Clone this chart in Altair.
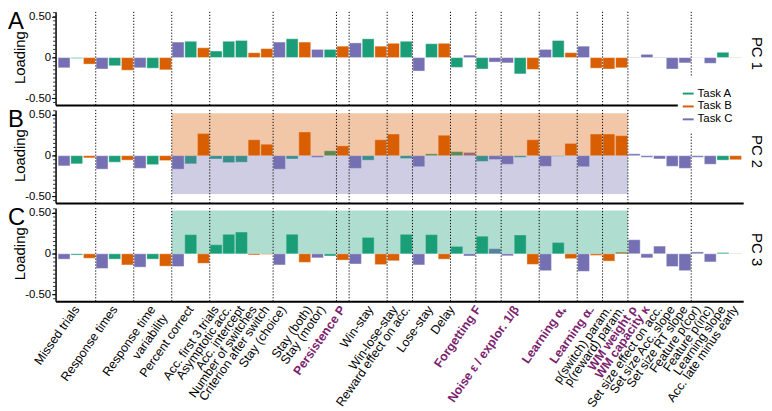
import altair as alt
import pandas as pd

FONT = "Liberation Sans"

TASK_NAMES = ["Task A", "Task B", "Task C"]
TASK_COLORS = ["#1b9e77", "#d95f02", "#7570b3"]
TASK_OF = {"A": "Task A", "B": "Task B", "C": "Task C"}

# task of each bar slot (left to right)
SLOT_TASKS = list("CABCABCABCAB" "AAABB" "CABCA" "B" "CAB" "BA" "CAB" "AC" "AC"
                  "CAB" "CAB" "CB" "BB" "CCCCC" "CCAB")

PC1 = [-0.125, -0.01, -0.08, -0.14, -0.10, -0.155, -0.125, -0.13, -0.15,
       0.19, 0.20, 0.12, 0.08, 0.20, 0.21, 0.06, 0.11,
       0.19, 0.23, 0.19, 0.10, 0.10, 0.14, 0.18, 0.23, 0.14, 0.175, 0.20,
       -0.165, 0.17, 0.175, -0.12, 0.03, -0.14, -0.055, -0.065, -0.20, -0.145,
       0.10, 0.21, 0.06, 0.14, -0.13, -0.14, -0.125,
       0.005, 0.04, -0.005, -0.14, -0.065, -0.003, -0.07, 0.065, 0.004]

PC2 = [-0.125, -0.10, -0.027, -0.165, -0.08, -0.055, -0.155, -0.11, -0.06,
       -0.165, -0.10, 0.27, -0.04, -0.085, -0.08, 0.195, 0.14,
       -0.165, -0.04, 0.29, -0.02, 0.06, 0.12, -0.155, -0.055, 0.195, 0.265, -0.035,
       -0.135, 0.023, 0.25, 0.05, 0.04, -0.07, -0.047, -0.105, -0.02, 0.195,
       -0.13, -0.008, 0.15, -0.135, 0.265, 0.265, 0.245,
       0.023, -0.02, -0.04, -0.13, -0.155, -0.02, -0.105, -0.055, -0.05]

PC3 = [-0.066, -0.016, -0.055, -0.18, -0.066, -0.137, -0.164, -0.066, -0.152,
       -0.156, 0.234, -0.117, 0.11, 0.238, 0.266, -0.016, -0.008,
       -0.137, 0.238, -0.105, -0.05, -0.027, -0.078, -0.125, 0.20, -0.133, -0.086, 0.238,
       -0.137, 0.234, -0.066, 0.09, -0.027, 0.215, 0.062, -0.025, 0.23, -0.13,
       -0.207, 0.137, -0.06, -0.215, -0.02, -0.09, 0.02,
       0.172, -0.05, 0.094, -0.156, -0.207, 0.023, -0.1, 0.015, 0.004]

GROUP_BOUNDARIES = [3, 6, 9, 12, 17, 22, 23, 26, 28, 31, 33, 35, 38, 41, 43, 45, 50]

FEATURE_LABELS = ["Missed trials", "Response times", "Response time\nvariability",
                  "Percent correct", "Acc. first 3 trials", "Asymptotic acc.",
                  "Acc. intercept", "Number of switches", "Criterion after switch",
                  "Stay (choice)", "Stay (both)", "Stay (motor)", "Persistence P",
                  "Win-stay", "Win-lose-stay", "Reward effect on acc.", "Lose-stay",
                  "Delay", "Forgetting F", "Noise ε / explor. 1/β", "Learning α₊",
                  "Learning α₋", "p(switch) param.", "p(reward) param.", "WM weight ρ",
                  "WM capacity κ", "Set size effect on acc.", "Set size Acc. slope",
                  "Set size RT slope", "Feature p(cor)", "Feature p(inc)",
                  "Learning slope", "Acc. late minus early"]
FEATURE_POS = [1.5, 4.5, 7.5, 10.5, 12.5, 13.5, 14.5, 15.5, 16.5,
               17.8, 19.85, 20.9, 22.5, 24.7, 26.6, 27.6, 29.4, 31.1, 33.2,
               36.2, 39.9, 42.1, 43.5, 44.5, 45.5, 46.5, 47.5, 48.5, 49.5,
               50.5, 51.5, 52.5, 53.5]
PARAMETER_LABELS = ["Persistence P", "Forgetting F", "Noise ε / explor. 1/β",
                    "Learning α₊", "Learning α₋", "WM weight ρ", "WM capacity κ"]

YTICKS = [-0.5, -0.25, 0, 0.25, 0.5]
YMINOR = [-0.55, -0.5, -0.45, -0.4, -0.35, -0.3, -0.25, -0.2, -0.15, -0.1, -0.05, 0,
          0.05, 0.1, 0.15, 0.2, 0.25, 0.3, 0.35, 0.4, 0.45, 0.5, 0.55]

SHADES_B = [("Task B", 9, 45, 0.0, 0.52), ("Task C", 9, 45, 0.0, -0.47)]
SHADES_C = [("Task A", 9, 45, 0.0, 0.53)]

W, H = 694, 94
GAP = 5
XDOM = [-0.17, 54.1]
YDOM = [-0.58, 0.56]

xscale = alt.Scale(domain=XDOM, nice=False, zero=False)
yscale = alt.Scale(domain=YDOM, nice=False, zero=False)
cscale = alt.Scale(domain=TASK_NAMES, range=TASK_COLORS)
xaxis = alt.Axis(labels=False, ticks=False, title=None, grid=False,
                 domainColor="black", domainWidth=2)
yaxis = alt.Axis(values=YTICKS, title=None, grid=False,
                 labelExpr="datum.value == 0 ? '0' : (datum.value < 0 ? '-' + format(-datum.value, '.2f') : format(datum.value, '.2f'))",
                 domainColor="black", domainWidth=1.5, tickColor="black", tickSize=4,
                 tickWidth=1, labelFontSize=11.5, labelColor="black", labelPadding=1,
                 labelFont=FONT)


def make_panel(letter, pc_name, values, shades, with_labels=False, with_legend=False):
    df = pd.DataFrame({"slot": list(range(len(values))),
                       "task": [TASK_OF[t] for t in SLOT_TASKS],
                       "loading": values})
    layers = []
    layers.append(
        alt.Chart(df).transform_calculate(xa="datum.slot + 0.03", xb="datum.slot + 0.97")
        .mark_rect(stroke="white", strokeWidth=0.8, strokeOpacity=0.5)
        .encode(x=alt.X("xa:Q", scale=xscale, axis=xaxis), x2="xb:Q",
                y=alt.Y("loading:Q", scale=yscale, axis=yaxis), y2=alt.datum(0),
                color=alt.Color("task:N", scale=cscale, legend=None))
    )
    layers.append(
        alt.Chart(pd.DataFrame({"v": YMINOR})).mark_rule(color="black", strokeWidth=0.8)
        .encode(y=alt.Y("v:Q", scale=yscale, axis=yaxis), x=alt.value(-2.5), x2=alt.value(0))
    )
    if shades:
        sdf = pd.DataFrame(shades, columns=["task", "x0", "x1", "y0", "y1"])
        layers.append(
            alt.Chart(sdf).mark_rect(opacity=0.35)
            .encode(x=alt.X("x0:Q", scale=xscale, axis=xaxis), x2="x1:Q",
                    y=alt.Y("y0:Q", scale=yscale, axis=yaxis), y2="y1:Q",
                    color=alt.Color("task:N", scale=cscale, legend=None))
        )
    layers.append(
        alt.Chart(pd.DataFrame({"b": GROUP_BOUNDARIES}))
        .mark_rule(color="black", strokeWidth=1, strokeDash=[1.2, 1.8])
        .encode(x=alt.X("b:Q", scale=xscale, axis=xaxis), y=alt.value(0), y2=alt.value(H))
    )
    layers.append(
        alt.Chart(pd.DataFrame({"t": [letter]}))
        .mark_text(font=FONT, fontSize=24, align="left", baseline="alphabetic", color="black")
        .encode(text="t:N", x=alt.value(-48), y=alt.value(17))
    )
    layers.append(
        alt.Chart(pd.DataFrame({"t": ["Loading"]}))
        .mark_text(font=FONT, fontSize=15, align="center", baseline="middle", angle=270,
                   color="black", dy=5)
        .encode(text="t:N", x=alt.value(-40.5), y=alt.datum(0, scale=yscale))
    )
    layers.append(
        alt.Chart(pd.DataFrame({"t": [pc_name]}))
        .mark_text(font=FONT, fontSize=15, align="center", baseline="middle", angle=90,
                   color="black")
        .encode(text="t:N", x=alt.value(W + 14), y=alt.value(H / 2 - 5))
    )
    if with_labels:
        ldf = pd.DataFrame({"label": FEATURE_LABELS, "pos": FEATURE_POS,
                            "param": [l in PARAMETER_LABELS for l in FEATURE_LABELS]})
        base = alt.Chart(ldf)
        layers.append(
            base.transform_filter("!datum.param")
            .mark_text(font=FONT, fontSize=12.5, align="right", baseline="middle",
                       angle=305, color="black", lineBreak="\n", lineHeight=15)
            .encode(text="label:N", x=alt.X("pos:Q", scale=xscale, axis=xaxis),
                    y=alt.value(H + 6))
        )
        layers.append(
            base.transform_filter("datum.param")
            .mark_text(font=FONT, fontSize=12.5, align="right", baseline="middle",
                       angle=305, color="#7b1f6e", fontWeight="bold")
            .encode(text="label:N", x=alt.X("pos:Q", scale=xscale, axis=xaxis),
                    y=alt.value(H + 6))
        )
    if with_legend:
        layers.append(
            alt.Chart(pd.DataFrame({"k": [0]})).mark_rect(color="white")
            .encode(x=alt.value(W - 66), x2=alt.value(W + 6),
                    y=alt.value(-34), y2=alt.value(23))
        )
        for i, name in enumerate(TASK_NAMES):
            yy = -16.5 + 13 * i
            ed = pd.DataFrame({"task": [name]})
            layers.append(
                alt.Chart(ed).mark_rule(strokeWidth=2)
                .encode(x=alt.value(W - 61), x2=alt.value(W - 50), y=alt.value(yy),
                        color=alt.Color("task:N", scale=cscale, legend=None))
            )
            layers.append(
                alt.Chart(ed).mark_text(font=FONT, fontSize=11.5, align="left",
                                        baseline="middle", color="black")
                .encode(text="task:N", x=alt.value(W - 46), y=alt.value(yy))
            )
    return alt.layer(*layers).properties(width=W, height=H)


pA = make_panel("A", "PC 1", PC1, None)
pB = make_panel("B", "PC 2", PC2, SHADES_B, with_legend=True)
pC = make_panel("C", "PC 3", PC3, SHADES_C, with_labels=True)

chart = (alt.vconcat(pA, pB, pC, spacing=GAP, bounds="flush")
         .properties(padding=0)
         .configure(font=FONT)
         .configure_view(stroke=None))

chart.save("out.html", embed_options={"renderer": "svg", "actions": False})
